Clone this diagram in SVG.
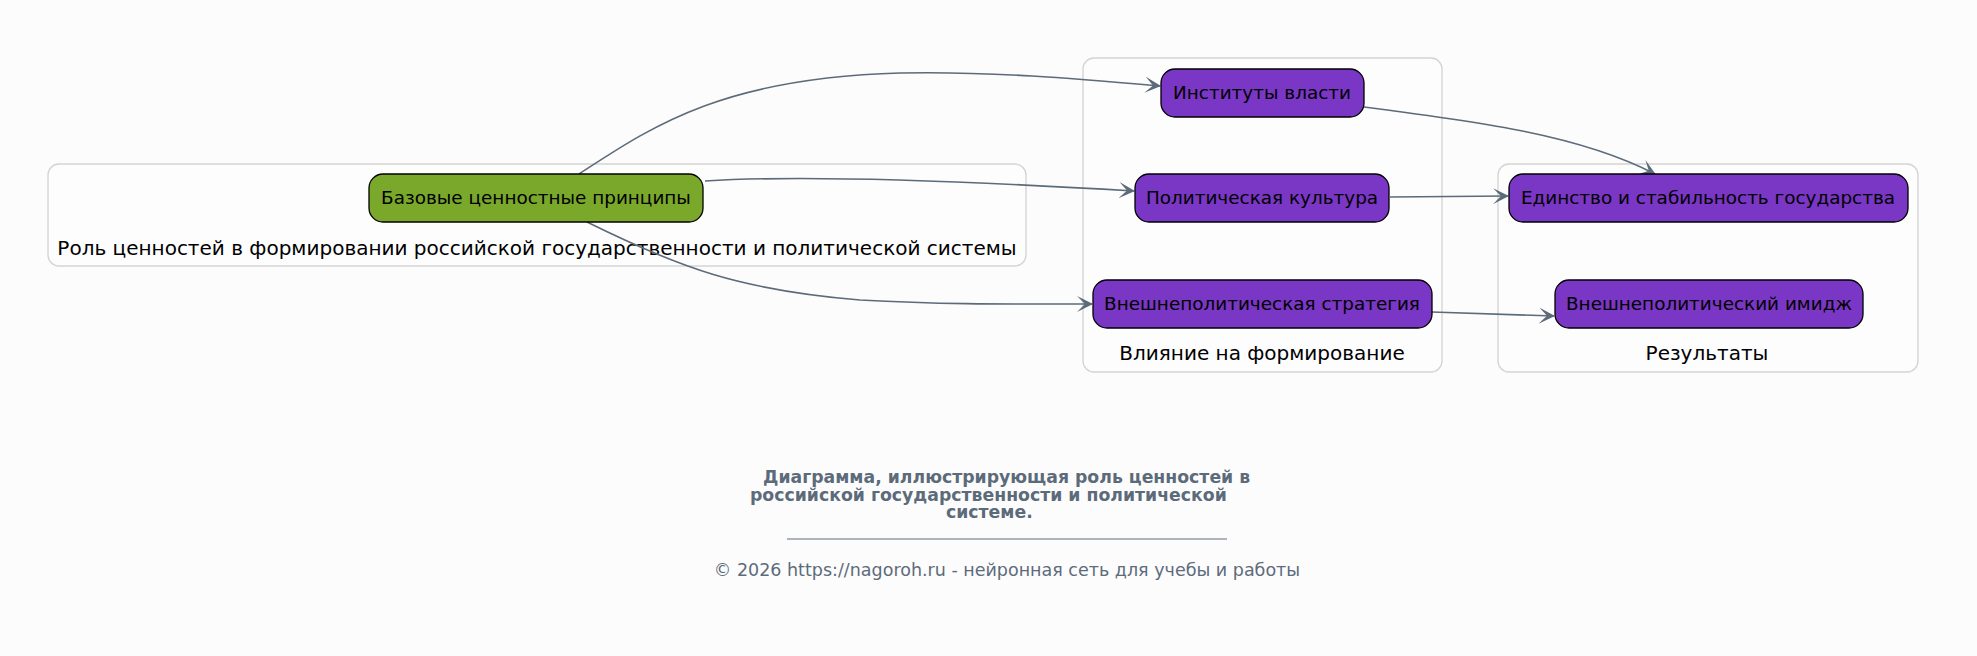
<svg xmlns="http://www.w3.org/2000/svg" width="1977" height="656" viewBox="0 0 1977 656">
<style>
text{font-family:"DejaVu Sans","Liberation Sans",sans-serif;}
.cl{fill:#fdfdfe;stroke:#d3d3d3;stroke-width:1.3;}
.cll{font-size:20px;fill:#000;text-anchor:middle;}
.n{stroke:#000;stroke-width:1.3;}
.p{fill:#7a36c4;}
.g{fill:#7aa82b;}
.nt{font-size:18.4px;fill:#000;text-anchor:middle;}
.e{fill:none;stroke:#5c6b7a;stroke-width:1.6;marker-end:url(#ah);}
.ft{font-size:17.3px;font-weight:bold;fill:#5c6b7a;}
.cp{font-size:17.5px;fill:#5c6b7a;text-anchor:middle;}
</style>
<defs>
<marker id="ah" viewBox="0 0 16 16" refX="15" refY="8" markerWidth="16" markerHeight="16" markerUnits="userSpaceOnUse" orient="auto">
<path d="M0,0 L16,8 L0,16 L8,8 Z" fill="#5c6b7a"/>
</marker>
</defs>
<rect width="1977" height="656" fill="#fdfcfd"/>
<g id="cluster-role">
<rect class="cl" x="48" y="164" width="978" height="102" rx="11"/>
<text class="cll" x="537" y="255">Роль ценностей в формировании российской государственности и политической системы</text>
</g>
<g id="cluster-influence">
<rect class="cl" x="1083" y="58" width="359" height="314" rx="11"/>
<text class="cll" x="1262" y="360">Влияние на формирование</text>
</g>
<g id="cluster-results">
<rect class="cl" x="1498" y="164" width="420" height="208" rx="11"/>
<text class="cll" x="1707" y="360">Результаты</text>
</g>
<g id="connectors">
<path class="e" d="M579,174 C650,128 720,78 900,73 C990,71 1080,79 1160,86"/>
<path class="e" d="M705,181 C800,175 950,180 1134,191"/>
<path class="e" d="M587,222 C680,268 740,290 860,300 C950,305 1020,304 1092,304"/>
<path class="e" d="M1364,107 C1480,122 1580,135 1655,174"/>
<path class="e" d="M1390,197 L1508,196"/>
<path class="e" d="M1432,312 L1554,316"/>
</g>
<g id="node-base">
<rect class="n g" x="369" y="174" width="334" height="48" rx="14"/>
<text class="nt" x="536" y="204">Базовые ценностные принципы</text>
</g>
<g id="node-inst">
<rect class="n p" x="1161" y="69" width="203" height="48" rx="14"/>
<text class="nt" x="1262" y="99">Институты власти</text>
</g>
<g id="node-cult">
<rect class="n p" x="1135" y="174" width="254" height="48" rx="14"/>
<text class="nt" x="1262" y="204">Политическая культура</text>
</g>
<g id="node-strat">
<rect class="n p" x="1093" y="280" width="339" height="48" rx="14"/>
<text class="nt" x="1262" y="310">Внешнеполитическая стратегия</text>
</g>
<g id="node-unity">
<rect class="n p" x="1509" y="174" width="399" height="48" rx="14"/>
<text class="nt" x="1708" y="204">Единство и стабильность государства</text>
</g>
<g id="node-image">
<rect class="n p" x="1555" y="280" width="308" height="48" rx="14"/>
<text class="nt" x="1709" y="310">Внешнеполитический имидж</text>
</g>
<g id="footer">
<text class="ft" x="763" y="483">Диаграмма, иллюстрирующая роль ценностей в</text>
<text class="ft" x="750" y="501">российской государственности и политической</text>
<text class="ft" x="946" y="518">системе.</text>
<line x1="787" y1="539" x2="1227" y2="539" stroke="#5c6b7a" stroke-width="1"/>
<text class="cp" x="1007" y="576">© 2026 https://nagoroh.ru - нейронная сеть для учебы и работы</text>
</g>
</svg>
